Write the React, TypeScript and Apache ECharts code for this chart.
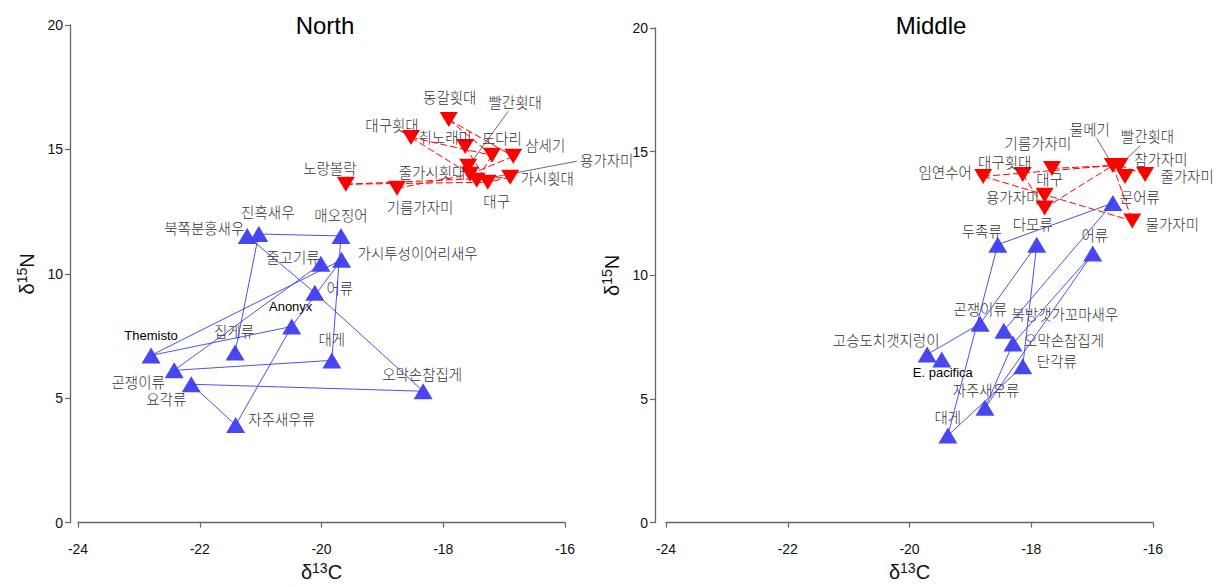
import React, { useEffect, useRef } from 'react';
import * as echarts from 'echarts';

// ---------- DATA ----------
// North panel – fish (red, down triangles)
const northRedNames = ['동갈횟대', '빨간횟대', '대구횟대', '취노래미', '도다리', '삼세기', '용가자미', '줄가시횟대', '가시횟대', '대구', '노랑볼락', '기름가자미'];
const northRedX = [-17.91, -17.59, -18.53, -17.64, -17.2, -16.85, -17.45, -17.56, -16.9, -17.27, -19.6, -18.76];
const northRedY = [16.2, 14.32, 15.48, 15.12, 14.76, 14.72, 13.76, 14.0, 13.88, 13.68, 13.6, 13.44];
// North panel – invertebrates etc. (blue, up triangles)
const northBlueNames = ['진흑새우', '북쪽분홍새우', '매오징어', '줄고기류', '가시투성이어리새우', '어류', 'Anonyx', 'Themisto', '집게류', '대게', '곤쟁이류', '요각류', '오막손참집게', '자주새우류'];
const northBlueX = [-21.03, -21.22, -19.68, -20.01, -19.67, -20.11, -20.49, -22.8, -21.42, -19.83, -22.42, -22.14, -18.33, -21.41];
const northBlueY = [11.6, 11.52, 11.52, 10.4, 10.56, 9.24, 7.88, 6.72, 6.84, 6.52, 6.12, 5.56, 5.28, 3.92];

// Middle panel – fish
const middleRedNames = ['임연수어', '대구횟대', '기름가자미', '대구', '용가자미', '물메기', '빨간횟대', '참가자미', '줄가자미', '물가자미'];
const middleRedX = [-18.79, -18.14, -17.66, -17.78, -17.78, -16.66, -16.55, -16.46, -16.13, -16.34];
const middleRedY = [14.0, 14.08, 14.32, 13.24, 12.72, 14.44, 14.44, 14.0, 14.08, 12.2];
// Middle panel – invertebrates etc.
const middleBlueNames = ['문어류', '두족류', '다모류', '어류', '곤쟁이류', '북방갯가꼬마새우', '오막손참집게', '단각류', '고승도치갯지렁이', 'E. pacifica', '자주새우류', '대게'];
const middleBlueX = [-16.66, -18.55, -17.91, -16.99, -18.84, -18.45, -18.3, -18.14, -19.71, -19.47, -18.76, -19.37];
const middleBlueY = [12.92, 11.24, 11.24, 10.88, 8.04, 7.76, 7.24, 6.32, 6.8, 6.6, 4.64, 3.52];

// Feeding links (source -> target)
const northRedLinks = [
  ['동갈횟대', '도다리'], ['동갈횟대', '삼세기'], ['대구횟대', '줄가시횟대'], ['대구횟대', '도다리'],
  ['취노래미', '대구'], ['노랑볼락', '대구'], ['노랑볼락', '가시횟대'], ['기름가자미', '줄가시횟대'],
  ['삼세기', '줄가시횟대'], ['도다리', '용가자미'], ['가시횟대', '대구'],
];
const northBlueLinks = [
  ['진흑새우', '매오징어'], ['진흑새우', '집게류'], ['북쪽분홍새우', '어류'], ['어류', '오막손참집게'],
  ['매오징어', '대게'], ['가시투성이어리새우', 'Themisto'], ['줄고기류', '곤쟁이류'],
  ['가시투성이어리새우', 'Anonyx'], ['Themisto', 'Anonyx'], ['곤쟁이류', '대게'],
  ['요각류', '오막손참집게'], ['요각류', '자주새우류'], ['자주새우류', 'Anonyx'],
];
const middleRedLinks = [
  ['임연수어', '물메기'], ['임연수어', '물가자미'], ['대구횟대', '용가자미'], ['기름가자미', '물메기'],
  ['용가자미', '물메기'], ['물메기', '물가자미'], ['참가자미', '물메기'], ['줄가자미', '빨간횟대'],
];
const middleBlueLinks = [
  ['두족류', '문어류'], ['두족류', '대게'], ['다모류', '곤쟁이류'], ['곤쟁이류', '고승도치갯지렁이'],
  ['다모류', '단각류'], ['문어류', '북방갯가꼬마새우'], ['어류', '오막손참집게'], ['어류', '자주새우류'],
  ['오막손참집게', '자주새우류'], ['단각류', '대게'],
];

// ---------- LAYOUT (label offsets in px from the point) ----------
const LABEL_OFFSETS: Record<string, Record<string, [number, number]>> = {
  north: {
    '동갈횟대': [1, -23], '빨간횟대': [47, -65], '대구횟대': [-19, -13], '취노래미': [-20, -10],
    '도다리': [10, -18], '삼세기': [32, -12], '용가자미': [130, -21], '줄가시횟대': [-38, -3],
    '가시횟대': [37, 0], '대구': [9, 18], '노랑볼락': [-16, -17], '기름가자미': [23, 18],
    '진흑새우': [9, -22], '북쪽분홍새우': [-43, -8], '매오징어': [0, -21], '줄고기류': [-28, -7],
    '가시투성이어리새우': [76, -7], '어류': [25, -5], 'Anonyx': [-1, -20], 'Themisto': [0, -20],
    '집게류': [-1, -22], '대게': [0, -22], '곤쟁이류': [-36, 11], '요각류': [-25, 14],
    '오막손참집게': [-1, -18], '자주새우류': [46, -7],
  },
  middle: {
    '임연수어': [-38, -5], '대구횟대': [-18, -13], '기름가자미': [-14, -26], '대구': [5, -17],
    '용가자미': [-32, -12], '물메기': [-23, -37], '빨간횟대': [28, -30], '참가자미': [36, -18],
    '줄가자미': [42, 1], '물가자미': [40, 3],
    '문어류': [27, -7], '두족류': [-16, -14], '다모류': [-4, -21], '어류': [2, -19],
    '곤쟁이류': [0, -15], '북방갯가꼬마새우': [61, -17], '오막손참집게': [51, -4], '단각류': [34, -6],
    '고승도치갯지렁이': [-41, -15], 'E. pacifica': [1, 13], '자주새우류': [1, -18], '대게': [0, -19],
  },
};
// leader-line end, relative to label centre
const LEADERS: Record<string, Record<string, [number, number]>> = {
  north: { '빨간횟대': [-7, 10], '용가자미': [-30, 2] },
  middle: { '물메기': [7, 10], '빨간횟대': [-7, 10] },
};

const RED = '#FF0000';
const BLUE_FILL = '#4848EE';
const BLUE_LINE = '#3C3CF2';
const KR_FONT = '"Noto Sans CJK KR", "Liberation Sans", sans-serif';
const AX_FONT = '"Liberation Sans", Arial, sans-serif';
const LATIN = ['Anonyx', 'Themisto', 'E. pacifica'];

function axisPair(gridIndex: number, xOffset: number, yOffset: number) {
  const axisLine = { show: true, lineStyle: { color: '#666', width: 1.3 } };
  const axisTick = { show: true, length: 5, lineStyle: { color: '#666', width: 1.2 } };
  const x = {
    type: 'value', gridIndex, min: -24, max: -16, interval: 2, offset: xOffset,
    axisLine, axisTick, splitLine: { show: false },
    axisLabel: { color: '#111', fontSize: 14, fontFamily: AX_FONT, margin: 6 },
    name: '{d|δ}{s|13}{d|C}', nameLocation: 'middle', nameGap: 24,
    nameTextStyle: {
      rich: {
        d: { fontSize: 20, fontFamily: AX_FONT, color: '#111' },
        s: { fontSize: 14, fontFamily: AX_FONT, color: '#111', padding: [0, 0, 9, 0] },
      },
    },
  };
  const y = {
    type: 'value', gridIndex, min: 0, max: 20, interval: 5, offset: yOffset,
    axisLine, axisTick, splitLine: { show: false },
    axisLabel: { color: '#111', fontSize: 14, fontFamily: AX_FONT, margin: 7 },
    name: '{d|δ}{s|15}{d|N}', nameLocation: 'middle', nameGap: 32,
    nameTextStyle: {
      rich: {
        d: { fontSize: 20, fontFamily: AX_FONT, color: '#111' },
        s: { fontSize: 14, fontFamily: AX_FONT, color: '#111', padding: [0, 0, 9, 0] },
      },
    },
  };
  return { x, y };
}

function buildPanel(
  panel: string, idx: number,
  redNames: string[], redX: number[], redY: number[],
  blueNames: string[], blueX: number[], blueY: number[],
  redLinks: string[][], blueLinks: string[][],
) {
  const offs = LABEL_OFFSETS[panel];
  const mk = (names: string[], xs: number[], ys: number[]) =>
    names.map((n, i) => ({
      name: n,
      value: [xs[i], ys[i]],
      label: LATIN.includes(n)
        ? { offset: offs[n] || [0, -18], color: '#000', fontFamily: AX_FONT, fontSize: 13, fontWeight: 'normal' }
        : { offset: offs[n] || [0, -18] },
    }));
  const baseLabel = { show: true, position: 'inside', formatter: '{b}', fontSize: 14.5, fontWeight: 300, fontFamily: KR_FONT, color: '#333' };

  const redScatter = {
    type: 'scatter', xAxisIndex: idx, yAxisIndex: idx, z: 2,
    symbol: 'triangle', symbolRotate: 180, symbolSize: [18, 15],
    itemStyle: { color: RED, opacity: 1 },
    label: baseLabel, emphasis: { disabled: true }, silent: true,
    data: mk(redNames, redX, redY),
  };
  const blueScatter = {
    type: 'scatter', xAxisIndex: idx, yAxisIndex: idx, z: 2,
    symbol: 'triangle', symbolSize: [19, 16],
    itemStyle: { color: BLUE_FILL, opacity: 1 },
    label: baseLabel, emphasis: { disabled: true }, silent: true,
    data: mk(blueNames, blueX, blueY),
  };

  const nodes = [
    ...redNames.map((n, i) => ({ name: n, value: [redX[i], redY[i]] })),
    ...blueNames.map((n, i) => ({ name: n, value: [blueX[i], blueY[i]] })),
  ];
  const links = [
    ...redLinks.map(([s, t]) => ({ source: s, target: t, lineStyle: { color: RED, width: 1, type: [7, 3], opacity: 1 } })),
    ...blueLinks.map(([s, t]) => ({ source: s, target: t, lineStyle: { color: BLUE_LINE, width: 0.9, type: 'solid', opacity: 1 } })),
  ];
  const graph = {
    type: 'graph', coordinateSystem: 'cartesian2d', xAxisIndex: idx, yAxisIndex: idx, z: 3,
    symbolSize: 0, label: { show: false }, roam: false, silent: true,
    emphasis: { disabled: true },
    data: nodes, links,
  };

  const leaderNames = Object.keys(LEADERS[panel]);
  const lookup = (n: string): number[] => {
    const ri = redNames.indexOf(n);
    if (ri >= 0) return [redX[ri], redY[ri]];
    const bi = blueNames.indexOf(n);
    return [blueX[bi], blueY[bi]];
  };
  const leaders = {
    type: 'custom', xAxisIndex: idx, yAxisIndex: idx, z: 1, silent: true,
    data: leaderNames.map((n) => ({ name: n, value: lookup(n) })),
    renderItem: (params: any, api: any) => {
      const n = leaderNames[params.dataIndex];
      const p = api.coord([api.value(0), api.value(1)]);
      const lo = offs[n];
      const le = LEADERS[panel][n];
      return {
        type: 'line',
        shape: { x1: p[0], y1: p[1], x2: p[0] + lo[0] + le[0], y2: p[1] + lo[1] + le[1] },
        style: { stroke: '#444', lineWidth: 0.8 },
      };
    },
  };
  return [leaders, redScatter, blueScatter, graph];
}

export default function App() {
  const ref = useRef<HTMLDivElement>(null);
  useEffect(() => {
    if (!ref.current) return;
    const chart = echarts.init(ref.current, undefined, { renderer: 'svg' });
    const a0 = axisPair(0, 13, 8);
    const a1 = axisPair(1, 13, 11);
    chart.setOption({
      animation: false,
      backgroundColor: '#fff',
      title: [
        { text: 'North', left: 320, top: 8, textAlign: 'center', textStyle: { fontSize: 24, fontWeight: 'normal', color: '#000', fontFamily: AX_FONT } },
        { text: 'Middle', left: 926, top: 8, textAlign: 'center', textStyle: { fontSize: 24, fontWeight: 'normal', color: '#000', fontFamily: AX_FONT } },
      ],
      grid: [
        { left: 78, top: 25, width: 487, height: 500 },
        { left: 666, top: 28, width: 487, height: 500 },
      ],
      xAxis: [a0.x, a1.x],
      yAxis: [a0.y, a1.y],
      series: [
        ...buildPanel('north', 0, northRedNames, northRedX, northRedY, northBlueNames, northBlueX, northBlueY, northRedLinks, northBlueLinks),
        ...buildPanel('middle', 1, middleRedNames, middleRedX, middleRedY, middleBlueNames, middleBlueX, middleBlueY, middleRedLinks, middleBlueLinks),
      ],
    });
    return () => chart.dispose();
  }, []);
  return <div ref={ref} style={{ position: 'fixed', left: 0, top: 0, width: 1222, height: 587 }} />;
}
